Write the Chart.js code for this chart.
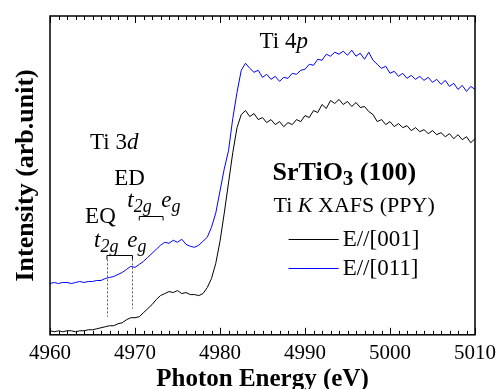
<!DOCTYPE html>
<html>
<head>
<meta charset="utf-8">
<script src="https://cdn.jsdelivr.net/npm/chart.js@4/dist/chart.umd.min.js"></script>
<style>
  html, body { margin: 0; padding: 0; background: #fff; }
  #wrap { width: 496px; height: 389px; position: relative; }
</style>
</head>
<body>
<div id="wrap"><canvas id="xafsChart"></canvas></div>
<script>
// Ti K-edge XAFS of SrTiO3 (100), PPY mode, two polarisations
// energy grid: 4960 .. 5010 eV, 0.5 eV step
const E_START = 4960, E_STEP = 0.5, E_COUNT = 101;
const energy = [];
for (let i = 0; i < E_COUNT; i++) energy.push(E_START + i * E_STEP);

// intensity (arb. unit)
const e001 = [
  4, 3, 4, 3, 4, 4, 3, 4, 4, 5,
  5, 6, 7, 8, 9, 9, 11, 12, 15, 17,
  17, 18, 22, 26, 30, 35, 39, 41, 43, 42,
  44, 41, 42, 40, 40, 39, 41, 47, 56, 71,
  93, 121, 151, 181, 206, 219, 223, 217, 220, 214,
  216, 211, 214, 209, 212, 207, 211, 209, 214, 212,
  218, 216, 223, 221, 229, 225, 233, 230, 234, 229,
  232, 227, 231, 226, 227, 222, 219, 212, 214, 209,
  212, 207, 210, 206, 208, 203, 206, 202, 204, 200,
  203, 199, 201, 197, 200, 195, 199, 194, 197, 191,
  195
];
const e011 = [
  51, 52, 51, 52, 52, 51, 52, 53, 52, 53,
  53, 54, 54, 56, 57, 58, 60, 62, 65, 68,
  67, 70, 73, 77, 81, 85, 89, 92, 91, 94,
  92, 95, 90, 88, 87, 89, 93, 97, 107, 121,
  143, 165, 183, 215, 241, 263, 270, 265, 261, 263,
  256, 259, 254, 257, 252, 256, 255, 260, 259, 263,
  264, 269, 268, 274, 273, 279, 277, 281, 279, 282,
  278, 283, 277, 280, 274, 281, 273, 269, 265, 267,
  260, 262, 257, 260, 255, 258, 254, 257, 253, 256,
  251, 254, 249, 253, 247, 250, 244, 248, 242, 247,
  244
];

const seriesLabels = ['E//[001]', 'E//[011]'];
const seriesColors = ['#000000', '#0000ff'];
const xTicks = [4960, 4970, 4980, 4990, 5000, 5010];

// peak markers (eV) for the EQ / ED t2g, eg features
const eqMarks = [4966.7, 4969.7];
const edMarks = [4970.5, 4973.3];

const SERIF = '"Liberation Serif", "Times New Roman", serif';

// draw a run of text pieces: [text, style] with style letters i=italic b=bold s=subscript
function richText(ctx, x, y, parts, size) {
  let cx = x;
  parts.forEach(([t, st = '']) => {
    const sub = st.includes('s');
    const fs = sub ? Math.round(size * 0.8) : size;
    ctx.font = (st.includes('i') ? 'italic ' : '') + (st.includes('b') ? 'bold ' : '') + fs + 'px ' + SERIF;
    ctx.fillText(t, cx, sub ? y + size * 0.25 : y);
    cx += ctx.measureText(t).width;
  });
  return cx;
}

const framePlugin = {
  id: 'frame',
  afterDatasetsDraw(chart) {
    const { ctx, chartArea: a, scales } = chart;
    const xs = scales.x, ys = scales.y;
    ctx.save();
    ctx.strokeStyle = '#000';
    ctx.lineWidth = 1.5;
    ctx.strokeRect(a.left, a.top, a.right - a.left, a.bottom - a.top);
    // inward ticks, top and bottom, minor every 1 eV
    ctx.lineWidth = 1;
    ctx.beginPath();
    for (let e = xTicks[0]; e <= xTicks[xTicks.length - 1]; e++) {
      const px = Math.round(xs.getPixelForValue(e)) + 0.5;
      const len = e % 10 === 0 ? 7 : 4;
      ctx.moveTo(px, a.bottom); ctx.lineTo(px, a.bottom - len);
      ctx.moveTo(px, a.top); ctx.lineTo(px, a.top + len);
    }
    ctx.stroke();

    const X = v => xs.getPixelForValue(v);
    const Y = v => ys.getPixelForValue(v);

    // brackets and dotted guide lines
    ctx.lineWidth = 1;
    ctx.beginPath();
    [[eqMarks, 79], [edMarks, 118]].forEach(([m, h]) => {
      const y0 = Math.round(Y(h)) + 0.5;
      ctx.moveTo(X(m[0]), y0 + 4); ctx.lineTo(X(m[0]), y0);
      ctx.lineTo(X(m[1]), y0); ctx.lineTo(X(m[1]), y0 + 4);
    });
    ctx.stroke();
    ctx.strokeStyle = '#555';
    ctx.setLineDash([2, 2]);
    ctx.beginPath();
    ctx.moveTo(Math.round(X(eqMarks[0])) + 0.5, Y(75)); ctx.lineTo(Math.round(X(eqMarks[0])) + 0.5, Y(18));
    ctx.moveTo(Math.round(X(eqMarks[1])) + 0.5, Y(75)); ctx.lineTo(Math.round(X(eqMarks[1])) + 0.5, Y(26));
    ctx.stroke();
    ctx.setLineDash([]);

    // labels
    ctx.fillStyle = '#000';
    ctx.textBaseline = 'middle';
    ctx.textAlign = 'left';
    richText(ctx, X(4984.65), Y(291), [['Ti 4'], ['p', 'i']], 23);
    richText(ctx, X(4964.72), Y(191), [['Ti 3'], ['d', 'i']], 23);
    richText(ctx, X(4967.55), Y(155), [['ED']], 23);
    richText(ctx, X(4969.1), Y(133), [['t', 'i'], ['2g', 'is']], 23);
    richText(ctx, X(4973.1), Y(133), [['e', 'i'], ['g', 'is']], 23);
    richText(ctx, X(4964.13), Y(117), [['EQ']], 23);
    richText(ctx, X(4965.19), Y(93), [['t', 'i'], ['2g', 'is']], 23);
    richText(ctx, X(4969.08), Y(93), [['e', 'i'], ['g', 'is']], 23);
    richText(ctx, X(4986.18), Y(161), [['SrTiO', 'b'], ['3', 'bs'], [' (100)', 'b']], 26);
    richText(ctx, X(4986.3), Y(128), [['Ti '], ['K', 'i'], [' XAFS (PPY)']], 22);

    // legend inside the frame
    chart.data.datasets.forEach((ds, i) => {
      const h = [95, 66][i];
      const yy = Math.round(Y(h)) + 0.5;
      ctx.strokeStyle = seriesColors[i];
      ctx.lineWidth = 1;
      ctx.beginPath();
      ctx.moveTo(X(4988.07), yy); ctx.lineTo(X(4993.96), yy);
      ctx.stroke();
      richText(ctx, X(4994.43), yy, [[ds.label]], 23);
    });
    ctx.restore();
  }
};

new Chart(document.getElementById('xafsChart'), {
  type: 'line',
  data: {
    datasets: [e001, e011].map((vals, i) => ({
      label: seriesLabels[i],
      data: vals.map((v, j) => ({ x: energy[j], y: v })),
      borderColor: seriesColors[i],
      borderWidth: 1,
      pointRadius: 0,
      tension: 0,
      fill: false
    }))
  },
  options: {
    responsive: true,
    maintainAspectRatio: false,
    animation: false,
    layout: { padding: { top: 16, right: 1, left: 13.5, bottom: 0 } },
    plugins: { legend: { display: false }, tooltip: { enabled: false } },
    scales: {
      x: {
        type: 'linear',
        min: 4960,
        max: 5010,
        afterBuildTicks: s => { s.ticks = xTicks.map(v => ({ value: v })); },
        afterFit: s => { s.paddingRight = 21; },
        grid: { display: false, drawTicks: false },
        border: { display: false },
        ticks: {
          color: '#000', padding: 6, maxRotation: 0,
          callback: v => String(v),
          font: { family: SERIF, size: 21 }
        },
        title: {
          display: true,
          text: 'Photon Energy (eV)',
          color: '#000',
          padding: { top: -5, bottom: -3 },
          font: { family: SERIF, size: 25, weight: 'bold', lineHeight: 1 }
        }
      },
      y: {
        min: 0,
        max: 317,
        grid: { display: false, drawTicks: false },
        border: { display: false },
        ticks: { display: false },
        title: {
          display: true,
          text: 'Intensity (arb.unit)',
          color: '#000',
          padding: { top: 0, bottom: 10.5 },
          font: { family: SERIF, size: 26, weight: 'bold', lineHeight: 1 }
        }
      }
    }
  },
  plugins: [framePlugin]
});
</script>
</body>
</html>
